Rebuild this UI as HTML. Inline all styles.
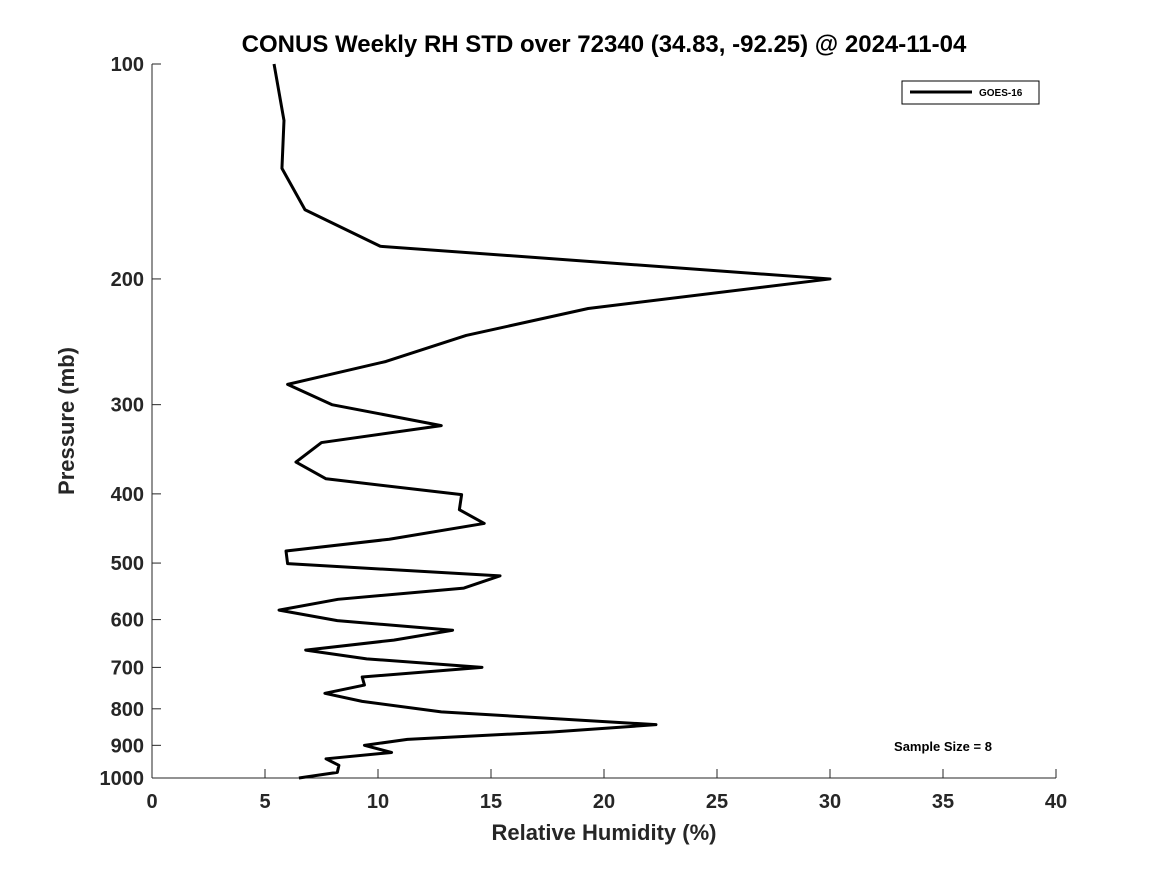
<!DOCTYPE html>
<html><head><meta charset="utf-8"><style>
body{margin:0;background:#fff;}
svg text{font-family:"Liberation Sans","DejaVu Sans",sans-serif;font-weight:bold;fill:#262626;}
</style></head><body>
<svg width="1167" height="875" xmlns="http://www.w3.org/2000/svg">
<rect width="1167" height="875" fill="#fff"/>
<text x="604" y="52" text-anchor="middle" font-size="24" style="fill:#000">CONUS Weekly RH STD over 72340 (34.83, -92.25) @ 2024-11-04</text>
<g id="axes"></g>
<polyline id="line" fill="none" stroke="#000" stroke-width="3" stroke-linejoin="round"/>
<g>
<rect x="902" y="81" width="137" height="23" fill="#fff" stroke="#000" stroke-width="1"/>
<line x1="910" y1="92" x2="972" y2="92" stroke="#000" stroke-width="3"/>
<text x="979" y="96" font-size="10" style="fill:#000">GOES-16</text>
</g>
<text x="943" y="751" text-anchor="middle" font-size="13" style="fill:#000">Sample Size = 8</text>
<text x="604" y="840" text-anchor="middle" font-size="22">Relative Humidity (%)</text>
<text transform="translate(74,421) rotate(-90)" text-anchor="middle" font-size="22">Pressure (mb)</text>
</svg>
<script>
const pressures=[100,120,140,160,180,200,220,240,261,281,300,321,339,361,381,401,421,440,463,481,501,521,542,562,582,602,621,641,662,681,700,722,741,761,781,808,842,862,883,900,921,940,960,982,1000];
const rhStd=[5.4,5.84,5.75,6.77,10.1,30.0,19.3,13.9,10.35,6.0,7.96,12.8,7.5,6.37,7.7,13.7,13.6,14.7,10.5,5.93,6.0,15.4,13.8,8.23,5.62,8.2,13.3,10.7,6.8,9.5,14.6,9.3,9.4,7.65,9.3,12.8,22.3,17.7,11.3,9.4,10.6,7.7,8.27,8.2,6.5];
const xTicks=[0,5,10,15,20,25,30,35,40];
const yTicks=[100,200,300,400,500,600,700,800,900,1000];
const X0=152,X1=1056,Y0=64,Y1=778;
function xs(v){return X0+(v-0)/(40-0)*(X1-X0);}
function ys(p){return Y0+(Math.log10(p)-2)*(Y1-Y0);}
const NS="http://www.w3.org/2000/svg";
const ax=document.getElementById('axes');
function mk(t,a){const e=document.createElementNS(NS,t);for(const k in a)e.setAttribute(k,a[k]);ax.appendChild(e);return e;}
const xl=mk('line',{x1:X0,y1:Y1,x2:X1,y2:Y1,stroke:'#262626','stroke-width':1});


const yl=mk('line',{x1:X0,y1:Y0,x2:X0,y2:Y1,stroke:'#262626','stroke-width':1});


xTicks.forEach(v=>{
 mk('line',{x1:xs(v),y1:Y1,x2:xs(v),y2:Y1-9,stroke:'#262626'});
 const t=mk('text',{x:xs(v),y:Y1+30,'text-anchor':'middle','font-size':20});
 t.textContent=v;
 
 
});
yTicks.forEach(p=>{
 mk('line',{x1:X0,y1:ys(p),x2:X0+9,y2:ys(p),stroke:'#262626'});
 const t=mk('text',{x:X0-8,y:ys(p)+7,'text-anchor':'end','font-size':20});
 t.textContent=p;
 
 
});
document.getElementById('line').setAttribute('points',pressures.map((p,i)=>xs(rhStd[i])+','+ys(p)).join(' '));
</script>
</body></html>
